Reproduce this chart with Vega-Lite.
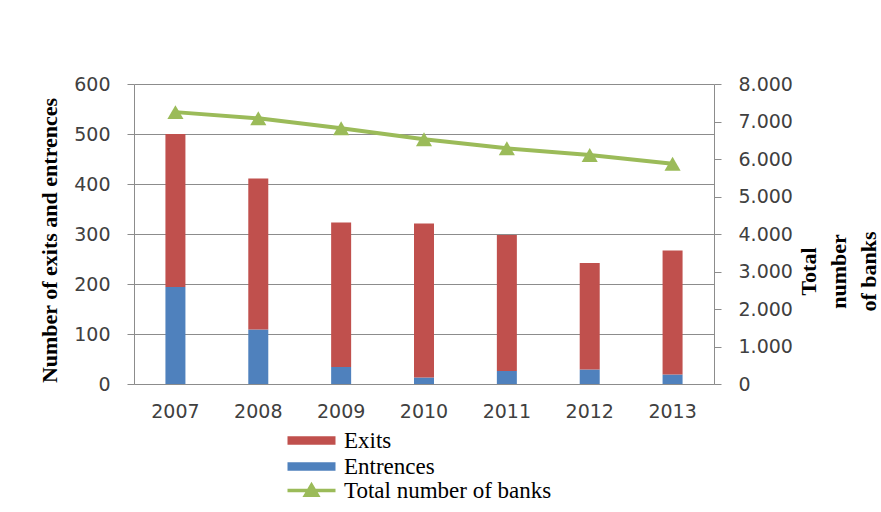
{
  "$schema": "https://vega.github.io/schema/vega-lite/v6.json",
  "width": 580,
  "height": 300,
  "autosize": "none",
  "padding": {"left": 134, "top": 84, "right": 167, "bottom": 128},
  "background": "white",
  "config": {
    "view": {"stroke": null},
    "axis": {"domainColor": "#8c8c8c", "tickColor": "#8c8c8c", "gridColor": "#8c8c8c", "labelFont": "DejaVu Sans", "labelFontSize": 19, "labelColor": "#404040", "titleFont": "Liberation Serif", "titleFontWeight": "bold", "titleFontSize": 22, "titleColor": "#000000"},
    "legend": {"labelFont": "Liberation Serif", "labelFontSize": 23, "labelColor": "#000000", "labelLimit": 0}
  },
  "datasets": {
    "bars": [
      {"year": "2007", "series": "Entrences", "value": 194, "ord": 1},
      {"year": "2008", "series": "Entrences", "value": 109, "ord": 1},
      {"year": "2009", "series": "Entrences", "value": 34, "ord": 1},
      {"year": "2010", "series": "Entrences", "value": 13, "ord": 1},
      {"year": "2011", "series": "Entrences", "value": 26, "ord": 1},
      {"year": "2012", "series": "Entrences", "value": 29, "ord": 1},
      {"year": "2013", "series": "Entrences", "value": 19, "ord": 1},
      {"year": "2007", "series": "Exits", "value": 306, "ord": 2},
      {"year": "2008", "series": "Exits", "value": 302, "ord": 2},
      {"year": "2009", "series": "Exits", "value": 289, "ord": 2},
      {"year": "2010", "series": "Exits", "value": 308, "ord": 2},
      {"year": "2011", "series": "Exits", "value": 272, "ord": 2},
      {"year": "2012", "series": "Exits", "value": 213, "ord": 2},
      {"year": "2013", "series": "Exits", "value": 248, "ord": 2}
    ],
    "banks": [
      {"year": "2007", "series": "Total number of banks", "total": 7250},
      {"year": "2008", "series": "Total number of banks", "total": 7085},
      {"year": "2009", "series": "Total number of banks", "total": 6820},
      {"year": "2010", "series": "Total number of banks", "total": 6525},
      {"year": "2011", "series": "Total number of banks", "total": 6285},
      {"year": "2012", "series": "Total number of banks", "total": 6105},
      {"year": "2013", "series": "Total number of banks", "total": 5875}
    ]
  },
  "encoding": {
    "x": {"field": "year", "type": "ordinal", "scale": {"paddingInner": 0, "paddingOuter": 0},
      "axis": {"title": null, "labelAngle": 0, "ticks": false, "tickSize": 0, "labelPadding": 18, "grid": false}}
  },
  "layer": [
    {
      "data": {"name": "bars"},
      "mark": {"type": "bar", "size": 20},
      "encoding": {
        "y": {"field": "value", "type": "quantitative", "stack": "zero",
          "scale": {"domain": [0, 600]},
          "axis": {"values": [0, 100, 200, 300, 400, 500, 600], "title": "Number of exits and entrences", "grid": true, "tickSize": 7, "labelPadding": 17,
            "titleAngle": -90, "titleBaseline": "middle", "titleAlign": "center", "titleX": -85, "titleY": 156}},
        "fill": {"field": "series", "type": "nominal",
          "scale": {"domain": ["Exits", "Entrences"], "range": ["#c0504d", "#4f81bd"]},
          "legend": {"title": null, "orient": "none", "legendX": 166, "legendY": 345, "symbolType": "M-4,-0.7H4V0.7H-4Z", "symbolSize": 144, "symbolStrokeWidth": 0, "labelOffset": 21, "rowPadding": 2}},
        "order": {"field": "ord", "type": "quantitative"}
      }
    },
    {
      "data": {"name": "banks"},
      "mark": {"type": "line", "strokeWidth": 4},
      "encoding": {
        "y": {"field": "total", "type": "quantitative", "scale": {"domain": [0, 8000]},
          "axis": {"orient": "right", "values": [0, 1000, 2000, 3000, 4000, 5000, 6000, 7000, 8000], "grid": false, "tickSize": 7, "labelPadding": 17,
            "labelExpr": "replace(format(datum.value, ','), ',', '.')",
            "title": ["Total", "number", "of banks"], "titleAngle": -90, "titleBaseline": "top", "titleAlign": "center", "titleX": 84, "titleY": 187, "titleLineHeight": 30}},
        "stroke": {"field": "series", "type": "nominal", "scale": {"range": ["#9bbb59"]},
          "legend": {"title": null, "orient": "none", "legendX": 166, "legendY": 395, "symbolType": "M-4,0H4M-1,0.8L0,-0.9L1,0.8Z", "symbolSize": 144, "symbolStrokeWidth": 3.5, "symbolFillColor": "#9bbb59", "labelOffset": 21}}
      }
    },
    {
      "data": {"name": "banks"},
      "mark": {"type": "point", "shape": "triangle-up", "filled": true, "size": 260, "color": "#9bbb59", "opacity": 1},
      "encoding": {
        "y": {"field": "total", "type": "quantitative", "scale": {"domain": [0, 8000]}, "axis": null}
      }
    }
  ],
  "resolve": {"scale": {"y": "independent"}}
}
